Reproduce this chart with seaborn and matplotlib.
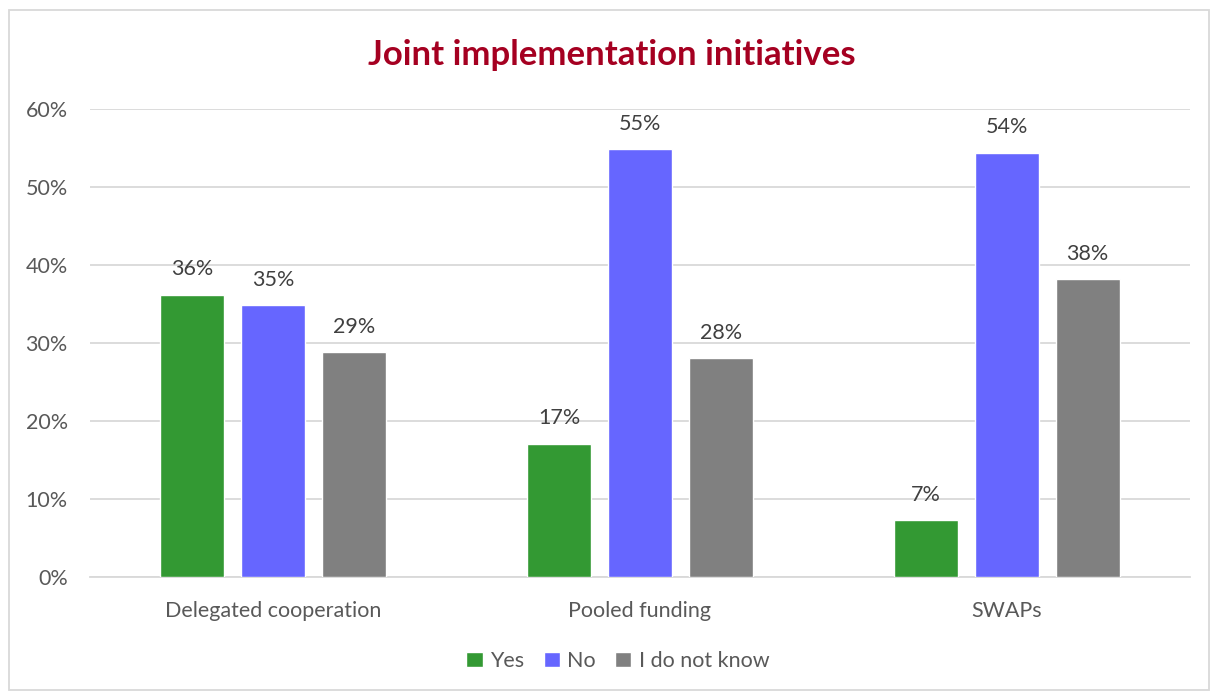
import matplotlib
matplotlib.use("Agg")
import matplotlib.pyplot as plt
from matplotlib.patches import Rectangle
import pandas as pd
import seaborn as sns

categories = ["Delegated cooperation", "Pooled funding", "SWAPs"]
answers = ["Yes", "No", "I do not know"]
yes_vals = [0.362, 0.171, 0.073]
no_vals = [0.349, 0.549, 0.544]
dk_vals = [0.288, 0.281, 0.382]
y_ticks = [0.0, 0.1, 0.2, 0.3, 0.4, 0.5, 0.6]
colors = ["#339933", "#6666FF", "#808080"]

rows = []
for ans, vals in zip(answers, [yes_vals, no_vals, dk_vals]):
    for cat, v in zip(categories, vals):
        rows.append({"category": cat, "answer": ans, "share": v})
df = pd.DataFrame(rows)

sns.set_theme(style="white")
plt.rcParams["font.family"] = ["Lato", "DejaVu Sans"]
text_color = "#595959"
grid_color = "#D9D9D9"
fs = 15.5

fig = plt.figure(figsize=(12.12, 6.92), dpi=100)
ax = fig.add_axes([90 / 1212, 1 - 577 / 692, 1100 / 1212, (577 - 109) / 692])

sns.barplot(data=df, x="category", y="share", hue="answer", order=categories,
            hue_order=answers, palette=colors, width=0.663, gap=0.21,
            saturation=1, errorbar=None, ax=ax, legend=True, zorder=3)

for container in ax.containers:
    ax.bar_label(container, labels=[f"{v * 100:.0f}%" for v in container.datavalues],
                 padding=11, fontsize=fs, color="#404040")

ax.set_ylim(0, 0.6)
ax.set_xlim(-0.5, 2.5)
ax.set_yticks(y_ticks)
ax.set_yticklabels([f"{t * 100:.0f}%" for t in y_ticks])
ax.yaxis.grid(True, color=grid_color, linewidth=1.3, zorder=0)
ax.set_axisbelow(True)
for side in ["top", "right", "left"]:
    ax.spines[side].set_visible(False)
ax.spines["bottom"].set_color(grid_color)
ax.spines["bottom"].set_linewidth(1.3)
ax.tick_params(axis="both", length=0, labelsize=fs, colors=text_color)
ax.tick_params(axis="y", pad=16)
ax.tick_params(axis="x", pad=17)
ax.set_xlabel("")
ax.set_ylabel("")

fig.text(612 / 1212, 1 - 55 / 692, "Joint implementation initiatives",
         ha="center", va="center", fontsize=25, fontweight="bold", color="#A50021")

leg = ax.legend(loc="center", bbox_to_anchor=((618 - 90) / 1100, (577 - 661) / 468), ncol=3,
                frameon=False, fontsize=fs, handlelength=0.75, handleheight=0.75,
                handletextpad=0.35, columnspacing=0.9)
for t in leg.get_texts():
    t.set_color(text_color)

fig.add_artist(Rectangle((9 / 1212, 2 / 692), 1200 / 1212, 680 / 692,
                         transform=fig.transFigure, fill=False,
                         edgecolor=grid_color, linewidth=1.3))

fig.savefig("out.png", dpi=100)
